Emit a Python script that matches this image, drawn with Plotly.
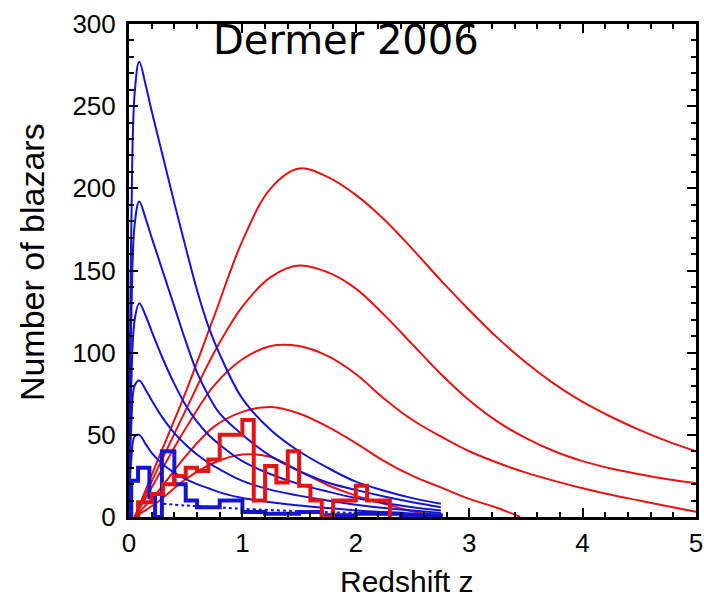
import plotly.graph_objects as go

# ---- Model curves: redshift grid and blazar counts ----
z_blue = [0, 0.02, 0.05, 0.09, 0.15, 0.2, 0.3, 0.4, 0.5, 0.6, 0.7, 0.8, 1.0,
          1.25, 1.5, 1.75, 2.0, 2.25, 2.5, 2.75]
bl_lac_curves = [
    [0, 175, 258, 277, 262, 247, 219, 191, 164, 138, 116, 99, 72, 53, 40, 30, 21.5, 16, 11.5, 8],
    [0, 120, 178, 192, 181, 170, 149, 128, 107, 88, 74, 63, 50, 37, 28, 21, 16.5, 12.5, 9, 6],
    [0, 80, 120, 130, 122, 113, 96, 81, 68, 58, 50, 44, 34, 26, 20, 15.5, 11.5, 8.5, 6, 4],
    [0, 55, 80, 83, 77, 71, 60, 51, 44, 38, 33, 29, 22, 16.5, 13, 10, 7.5, 5.5, 4, 2.5],
    [0, 35, 49, 50, 44, 39, 32, 27, 23, 20, 17.5, 15, 11.5, 9, 7, 5.5, 4, 3, 2.2, 1.2],
]

z_red = [0.05, 0.25, 0.5, 0.75, 1.0, 1.25, 1.5, 1.75, 2.0, 2.25, 2.5, 2.75, 3.0,
         3.25, 3.5, 3.75, 4.0, 4.25, 4.5, 4.75, 5.0]
fsrq_curves = [
    [0, 34, 76, 122, 168, 200, 212, 207, 196, 181, 163, 144, 126, 109, 94, 81, 70, 61, 53, 46, 40],
    [0, 29, 65, 100, 128, 146, 153, 149, 139, 123, 105, 87, 71, 58, 48, 40, 34, 29.5, 26, 23, 20.5],
    [0, 24, 54, 80, 96, 104, 104, 98, 87, 72, 59, 49, 40, 33, 27, 22, 17.5, 13.5, 10, 6.5, 3.2],
]
z_red_short = [0.05, 0.25, 0.5, 0.75, 1.0, 1.25, 1.5, 1.75, 2.0, 2.25, 2.5, 2.75, 3.0, 3.25, 3.45]
fsrq_curve_4 = [0, 15, 37, 55, 64, 67, 63, 55, 45, 34, 25, 18, 11, 5.5, 0]
z_red_low = [0.05, 0.25, 0.5, 0.75, 1.0, 1.25, 1.5, 1.75, 2.0, 2.25, 2.5, 2.75]
fsrq_curve_5 = [0, 9, 23, 33, 38, 36.5, 28, 19.5, 13, 8, 3.5, 0]

z_dotted = [0.3, 0.5, 0.75, 1.0, 1.5, 2.0, 2.75]
n_dotted = [8, 7, 6, 5, 3.5, 2.5, 1.5]

# ---- Observed histograms: bin edges and counts ----
bl_lac_edges = [0.02, 0.08, 0.18, 0.23, 0.29, 0.4, 0.5, 0.6, 0.7, 0.8, 0.9, 1.0,
                1.2, 1.5, 1.7, 2.0, 2.4, 2.75]
bl_lac_counts = [22, 30, 12, 0, 40, 20, 10, 6, 6, 10, 10, 3, 2, 3, 1, 2, 1]

fsrq_edges = [0.08, 0.2, 0.3, 0.4, 0.5, 0.6, 0.7, 0.8, 0.9, 1.0, 1.1, 1.2, 1.3,
              1.4, 1.5, 1.6, 1.7, 1.8, 1.9, 2.0, 2.1, 2.2, 2.3]
fsrq_counts = [9, 14, 20, 25, 30, 28, 35, 50, 50, 59, 10, 31, 21, 40, 19, 10, 0,
               10, 10, 19, 10, 10]

BLUE = "#1414d2"
RED = "#e41414"


def step_outline(edges, counts):
    xs = [edges[0]] + list(edges)
    ys = [0] + list(counts) + [0]
    return xs, ys


fig = go.Figure()

for ys in fsrq_curves:
    fig.add_trace(go.Scatter(x=z_red, y=ys, mode="lines", line_shape="spline",
                             line=dict(color=RED, width=2)))
fig.add_trace(go.Scatter(x=z_red_short, y=fsrq_curve_4, mode="lines", line_shape="spline",
                         line=dict(color=RED, width=2)))
fig.add_trace(go.Scatter(x=z_red_low, y=fsrq_curve_5, mode="lines", line_shape="spline",
                         line=dict(color=RED, width=2)))

for ys in bl_lac_curves:
    fig.add_trace(go.Scatter(x=z_blue, y=ys, mode="lines", line_shape="spline",
                             line=dict(color=BLUE, width=2)))
fig.add_trace(go.Scatter(x=z_dotted, y=n_dotted, mode="lines", line_shape="spline",
                         line=dict(color=BLUE, width=2, dash="dot")))

bx, by = step_outline(bl_lac_edges, bl_lac_counts)
fig.add_trace(go.Scatter(x=bx, y=by, mode="lines", line_shape="hv",
                         line=dict(color=BLUE, width=4)))
rx, ry = step_outline(fsrq_edges, fsrq_counts)
fig.add_trace(go.Scatter(x=rx, y=ry, mode="lines", line_shape="hv",
                         line=dict(color=RED, width=4)))

fig.add_annotation(x=0.72, y=290, xref="x", yref="y", text="Dermer 2006",
                   showarrow=False, xanchor="left", yanchor="middle",
                   font=dict(family="DejaVu Sans", size=40, color="black"))

# axis titles placed in paper coordinates
fig.add_annotation(x=0.49, y=-0.13, xref="paper", yref="paper", text="Redshift z",
                   showarrow=False, xanchor="center", yanchor="middle",
                   font=dict(family="Liberation Sans", size=30, color="black"))
fig.add_annotation(x=-0.172, y=0.518, xref="paper", yref="paper", text="Number of blazars",
                   showarrow=False, xanchor="center", yanchor="middle", textangle=-90,
                   font=dict(family="Liberation Sans", size=34, color="black"))

axis_common = dict(showline=True, linecolor="black", linewidth=3, mirror="ticks",
                   ticks="inside", tickcolor="black", tickwidth=2, ticklen=9,
                   showgrid=False, zeroline=False, automargin=False,
                   ticklabeloverflow="allow",
                   tickfont=dict(family="Liberation Sans", size=26, color="black"))

fig.update_xaxes(range=[0, 5], dtick=1, tick0=0,
                 minor=dict(dtick=0.2, ticks="inside", ticklen=5, tickwidth=1.5,
                            tickcolor="black", showgrid=False),
                 ticklabelstandoff=1, **axis_common)
fig.update_yaxes(range=[0, 300], dtick=50, tick0=0,
                 minor=dict(dtick=10, ticks="inside", ticklen=5, tickwidth=1.5,
                            tickcolor="black", showgrid=False),
                 ticklabelstandoff=5, **axis_common)

fig.update_layout(width=704, height=599, margin=dict(l=129, r=8, t=24, b=82),
                  paper_bgcolor="white", plot_bgcolor="white", showlegend=False)

fig.write_html("out.html")
